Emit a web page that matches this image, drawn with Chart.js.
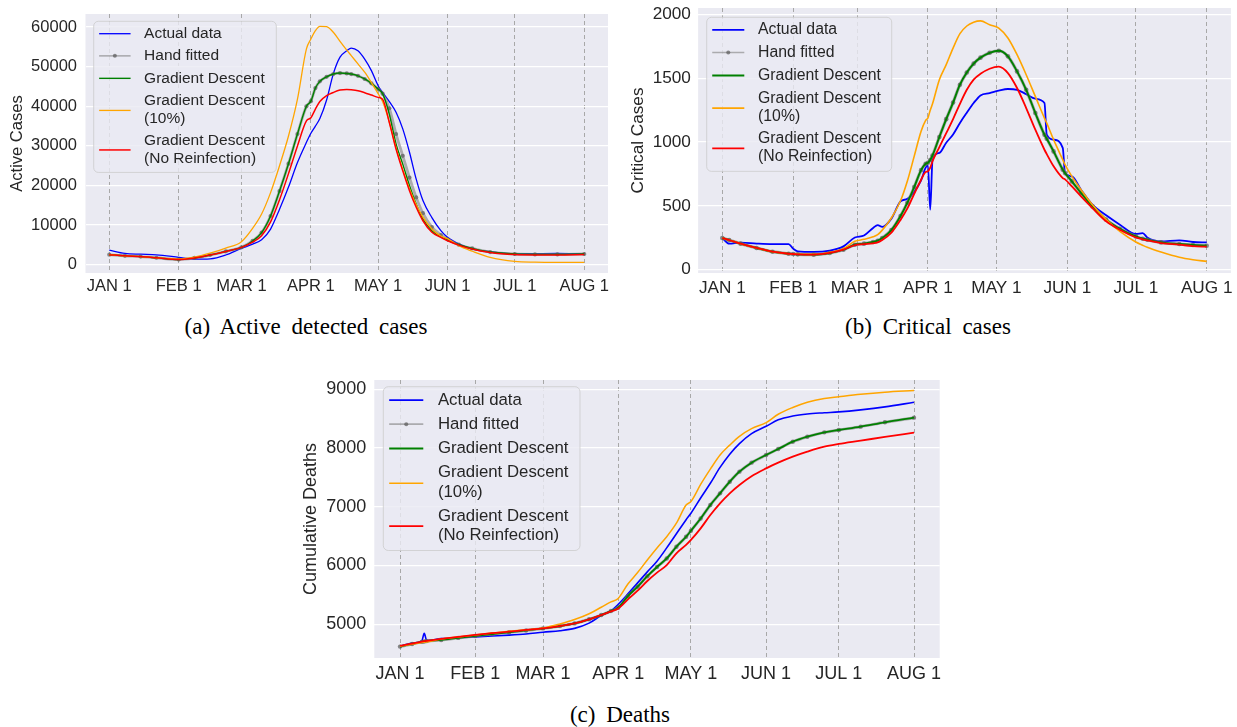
<!DOCTYPE html>
<html>
<head>
<meta charset="utf-8">
<script src="https://cdn.jsdelivr.net/npm/chart.js@4.4.1/dist/chart.umd.min.js"></script>
<style>
  body { margin: 0; background: #fff; width: 1237px; height: 727px; position: relative; overflow: hidden; }
  .panel { position: absolute; }
  .caption { position: absolute; font-family: "Liberation Serif", "Times New Roman", serif; font-size: 23px;
             word-spacing: 5px; color: #000; white-space: nowrap; transform: translateX(-50%); line-height: 26px; }
</style>
</head>
<body>
<div class="panel" style="left:0px;top:0px"><canvas id="active" width="612" height="300"></canvas></div>
<div class="panel" style="left:620px;top:0px"><canvas id="critical" width="617" height="300"></canvas></div>
<div class="panel" style="left:300px;top:370px"><canvas id="deaths" width="650" height="316"></canvas></div>
<div class="caption" style="left:306px;top:314px">(a) Active detected cases</div>
<div class="caption" style="left:928px;top:314px">(b) Critical cases</div>
<div class="caption" style="left:620px;top:702px">(c) Deaths</div>
<script>
// day 0 = Jan 1
const MONTH_DAYS = [0, 31, 59, 90, 120, 151, 181, 212];
const MONTH_LABELS = ['JAN 1', 'FEB 1', 'MAR 1', 'APR 1', 'MAY 1', 'JUN 1', 'JUL 1', 'AUG 1'];
const LEGEND_LABELS = [['Actual data'], ['Hand fitted'], ['Gradient Descent'],
                       ['Gradient Descent', '(10%)'], ['Gradient Descent', '(No Reinfection)']];

// (a) active cases
const ACTIVE_DAYS = [0, 7, 14, 21, 31, 38, 45, 52, 59, 64, 68, 72, 76, 80, 84, 88, 90, 92, 94, 97, 100, 103, 106, 108,
                     111, 114, 117, 120, 122, 125, 128, 131, 134, 137, 140, 144, 148, 151, 156, 162, 170, 181, 190, 200, 212];
const ACTIVE_ACTUAL = [3700, 2850, 2650, 2500, 1860, 1400, 1480, 2450, 4130, 5200, 6300, 9000, 14000, 19600, 25800, 30900,
                       33200, 35000, 36900, 41600, 48200, 52400, 54000, 54700, 54000, 51900, 49000, 45200, 43500, 41200,
                       38500, 34300, 28400, 21600, 16200, 11900, 8600, 6900, 5250, 3960, 3300, 2750, 2800, 2850, 2750];
const ACTIVE_HAND = [2530, 2250, 2050, 1750, 1300, 1700, 2450, 3350, 4380, 6000, 8100, 12300, 18600, 25500, 33000, 40000,
                     41300, 44600, 46300, 47450, 48150, 48400, 48300, 48150, 47700, 46900, 45800, 44350, 43200, 39500,
                     33000, 27500, 22000, 17000, 13000, 9500, 7500, 6400, 5050, 4100, 3200, 2700, 2600, 2600, 2700];
const ACTIVE_GD = [2530, 2250, 2050, 1750, 1300, 1700, 2450, 3350, 4380, 6000, 8100, 12300, 18600, 25500, 33000, 40000,
                   41300, 44600, 46300, 47450, 48150, 48400, 48300, 48150, 47700, 46900, 45800, 44350, 43200, 38000,
                   30500, 25400, 20000, 15300, 11500, 8600, 7050, 6200, 5050, 4100, 3200, 2700, 2600, 2600, 2700];
const ACTIVE_GD10 = [2530, 2250, 2050, 1750, 1440, 1900, 2900, 4200, 5810, 9200, 12800, 18200, 25000, 32500, 41800, 54500,
                     57000, 59100, 60200, 60100, 58700, 56400, 54200, 52800, 50700, 48600, 46000, 43200, 41200, 36000,
                     29500, 24000, 19200, 15200, 12000, 9000, 7200, 6600, 4800, 3400, 1850, 850, 650, 600, 600];
const ACTIVE_GDNR = [2530, 2250, 2050, 1750, 1300, 1700, 2450, 3350, 4380, 5700, 7300, 10800, 16400, 23000, 30000, 36300,
                     37100, 39300, 41200, 42700, 43500, 44100, 44270, 44190, 43940, 43430, 42840, 42250, 41800, 35900,
                     29200, 23700, 18700, 14500, 11100, 8200, 6900, 6050, 4950, 3950, 3100, 2550, 2450, 2450, 2550];
const ACTIVE_TICKS = [0, 10000, 20000, 30000, 40000, 50000, 60000];

// (b) critical cases
const CRITICAL_DAYS = [0, 3, 8, 15, 22, 29, 31, 33, 40, 47, 53, 58, 62, 66, 68, 70, 74, 78, 81, 84, 87, 89, 90, 91, 92, 95,
                       98, 101, 104, 107, 110, 113, 117, 121, 125, 129, 133, 137, 141, 142, 145, 149, 150, 153, 157, 162,
                       168, 174, 181, 184, 186, 192, 200, 206, 212];
const CRITICAL_ACTUAL = [248, 204, 212, 205, 201, 201, 165, 144, 140, 150, 183, 252, 268, 327, 350, 335, 400, 535, 555, 610,
                         700, 800, 815, 470, 860, 915, 995, 1060, 1150, 1230, 1306, 1366, 1384, 1403, 1416, 1410, 1376,
                         1340, 1306, 1058, 1019, 955, 757, 731, 627, 509, 426, 353, 280, 287, 253, 222, 230, 217, 214];
const CRITICAL_HAND = [248, 232, 204, 170, 141, 125, 123, 120, 118, 131, 157, 196, 204, 217, 227, 248, 310, 420, 525, 648,
                       780, 830, 838, 860, 895, 1040, 1180, 1310, 1450, 1545, 1615, 1662, 1700, 1716, 1672, 1554, 1410,
                       1228, 1058, 1026, 927, 784, 757, 692, 601, 496, 392, 321, 261, 243, 235, 214, 201, 193, 188];
const CRITICAL_GD = [248, 232, 204, 170, 141, 125, 123, 120, 118, 131, 157, 196, 204, 217, 227, 248, 310, 420, 525, 648,
                     780, 830, 838, 860, 895, 1040, 1180, 1310, 1450, 1545, 1615, 1662, 1700, 1716, 1672, 1554, 1410,
                     1228, 1058, 1026, 927, 784, 757, 692, 601, 496, 392, 321, 261, 243, 235, 214, 201, 193, 188];
const CRITICAL_GD10 = [248, 232, 204, 170, 141, 125, 123, 121, 120, 135, 165, 222, 238, 258, 274, 310, 405, 540, 695, 890,
                       1085, 1170, 1190, 1250, 1300, 1489, 1607, 1737, 1850, 1910, 1940, 1950, 1920, 1894, 1816, 1685,
                       1528, 1358, 1188, 1149, 1019, 862, 823, 731, 627, 509, 392, 301, 217, 191, 175, 138, 97, 78, 65];
const CRITICAL_GDNR = [248, 232, 204, 170, 141, 125, 123, 120, 118, 131, 157, 193, 200, 207, 214, 232, 290, 390, 480, 595,
                       705, 765, 771, 800, 850, 960, 1070, 1180, 1300, 1410, 1490, 1535, 1575, 1591, 1541, 1424, 1267,
                       1097, 940, 906, 810, 718, 708, 653, 575, 483, 379, 313, 253, 238, 230, 209, 196, 185, 180];
const CRITICAL_TICKS = [0, 500, 1000, 1500, 2000];

// (c) cumulative deaths
const DEATHS_DAYS = [0, 5, 9, 10, 11, 17, 24, 31, 38, 45, 52, 59, 66, 72, 78, 83, 87, 90, 94, 98, 102, 106, 110, 114, 118,
                     120, 124, 128, 132, 136, 140, 145, 151, 156, 162, 168, 175, 181, 190, 200, 212];
const DEATHS_ACTUAL = [4625, 4680, 4718, 4845, 4725, 4755, 4770, 4785, 4800, 4815, 4835, 4865, 4890, 4930, 5020, 5150,
                       5230, 5340, 5517, 5705, 5892, 6074, 6300, 6540, 6780, 6890, 7150, 7400, 7670, 7895, 8075, 8245,
                       8370, 8480, 8545, 8580, 8600, 8615, 8650, 8700, 8778];
const DEATHS_HAND = [4620, 4665, 4700, 4708, 4715, 4733, 4768, 4801, 4833, 4864, 4895, 4930, 4970, 5015, 5085, 5157,
                     5225, 5282, 5480, 5640, 5818, 5975, 6120, 6320, 6490, 6593, 6800, 7030, 7229, 7427, 7598, 7751,
                     7881, 7983, 8108, 8193, 8267, 8307, 8364, 8438, 8517];
const DEATHS_GD = [4620, 4665, 4700, 4708, 4715, 4733, 4768, 4801, 4833, 4864, 4895, 4930, 4970, 5015, 5085, 5157,
                   5225, 5282, 5480, 5640, 5818, 5975, 6120, 6320, 6490, 6593, 6800, 7030, 7229, 7427, 7598, 7751,
                   7881, 7983, 8108, 8193, 8267, 8307, 8364, 8438, 8517];
const DEATHS_GD10 = [4625, 4660, 4690, 4695, 4700, 4750, 4785, 4818, 4850, 4880, 4905, 4935, 5005, 5080, 5180, 5290,
                     5380, 5440, 5685, 5880, 6095, 6300, 6490, 6720, 7030, 7090, 7380, 7640, 7881, 8050, 8200, 8330,
                     8432, 8575, 8690, 8780, 8845, 8874, 8915, 8950, 8978];
const DEATHS_GDNR = [4635, 4670, 4705, 4712, 4718, 4750, 4785, 4818, 4848, 4875, 4903, 4930, 4970, 5015, 5085, 5157,
                     5220, 5270, 5425, 5572, 5737, 5879, 6007, 6208, 6350, 6435, 6632, 6860, 7059, 7229, 7371, 7520,
                     7654, 7751, 7853, 7938, 8023, 8069, 8125, 8190, 8261];
const DEATHS_TICKS = [5000, 6000, 7000, 8000, 9000];

const FONT = '"Liberation Sans", Arial, sans-serif';
const INK = '#262626';
const COLORS = ['#0000ff', 'rgba(128,128,128,0.6)', '#008000', '#ffa500', '#ff0000'];

// seaborn-like grey plot area
const plotBg = {
  id: 'plotBg',
  beforeDraw(chart) {
    const a = chart.chartArea, ctx = chart.ctx;
    ctx.save();
    ctx.fillStyle = '#eaeaf2';
    ctx.fillRect(a.left, a.top, a.right - a.left, a.bottom - a.top);
    ctx.restore();
  }
};

// matplotlib style legend box (two-line labels)
const boxLegend = {
  id: 'boxLegend',
  afterDraw(chart, args, o) {
    const ctx = chart.ctx, f = o.size;
    const rows = [[0.8], [2.23], [3.68], [5.12, 6.28], [7.7, 8.84]];
    const mid = [0.8, 2.23, 3.68, 5.75, 8.3];
    ctx.save();
    ctx.beginPath();
    ctx.roundRect(o.left, o.top, o.width, 9.75 * f, 0.3 * f);
    ctx.fillStyle = 'rgba(234,234,242,0.8)';
    ctx.fill();
    ctx.strokeStyle = 'rgba(204,204,204,0.8)';
    ctx.lineWidth = 1;
    ctx.stroke();
    ctx.font = f + 'px ' + FONT;
    ctx.textBaseline = 'middle';
    chart.data.datasets.forEach((ds, i) => {
      const y = o.top + mid[i] * f;
      const x1 = o.left + 0.35 * f, x2 = o.left + 2.38 * f;
      ctx.strokeStyle = ds.borderColor;
      ctx.lineWidth = i === 1 ? 1.6 : ds.borderWidth;
      ctx.beginPath();
      ctx.moveTo(x1, y);
      ctx.lineTo(x2, y);
      ctx.stroke();
      if (ds.pointRadius) {
        ctx.fillStyle = ds.pointBackgroundColor;
        ctx.beginPath();
        ctx.arc((x1 + x2) / 2, y, 2, 0, 2 * Math.PI);
        ctx.fill();
      }
      ctx.fillStyle = INK;
      LEGEND_LABELS[i].forEach((t, k) => ctx.fillText(t, o.left + 3.25 * f, o.top + rows[i][k] * f));
    });
    ctx.restore();
  }
};

function makeChart(id, days, series, s) {
  const datasets = series.map((vals, i) => ({
    data: days.map((d, k) => ({ x: d, y: vals[k] })),
    borderColor: COLORS[i],
    borderWidth: s.widths[i],
    pointRadius: i === 1 ? s.dot : 0,
    pointBackgroundColor: 'rgba(90,90,90,0.7)',
    pointBorderWidth: 0,
    cubicInterpolationMode: 'monotone',
    order: 5 - i,
    fill: false
  }));
  const tickFont = { family: FONT, size: s.tick };
  return new Chart(document.getElementById(id), {
    type: 'line',
    data: { datasets },
    plugins: [plotBg, boxLegend],
    options: {
      responsive: false,
      animation: false,
      events: [],
      layout: { padding: { left: 0, top: s.top, right: s.right, bottom: 0 } },
      plugins: { legend: { display: false }, tooltip: { enabled: false }, boxLegend: s.legend },
      scales: {
        x: {
          type: 'linear', min: -10.6, max: 222.6,
          afterBuildTicks: ax => { ax.ticks = MONTH_DAYS.map(v => ({ value: v })); },
          afterFit: ax => { ax.height = s.xHeight; ax.paddingLeft = 0; ax.paddingRight = 0; },
          ticks: { autoSkip: false, maxRotation: 0, minRotation: 0, padding: s.xPad, color: INK, font: tickFont,
                   callback: (v, i) => MONTH_LABELS[i] },
          grid: { color: '#a8a8a8', lineWidth: 1, drawTicks: false },
          border: { display: false, dash: [4, 3] }
        },
        y: {
          min: s.yMin, max: s.yMax,
          afterBuildTicks: ax => { ax.ticks = s.yTicks.map(v => ({ value: v })); },
          afterFit: ax => { ax.width = s.yWidth; ax.paddingTop = 0; ax.paddingBottom = 0; },
          ticks: { padding: s.yPad, color: INK, font: tickFont, callback: v => String(v) },
          grid: { color: '#ffffff', lineWidth: 1.3, drawTicks: false },
          border: { display: false },
          title: { display: true, text: s.title, color: INK, font: tickFont, padding: { top: s.titlePad, bottom: 0 } }
        }
      }
    }
  });
}

makeChart('active', ACTIVE_DAYS, [ACTIVE_ACTUAL, ACTIVE_HAND, ACTIVE_GD, ACTIVE_GD10, ACTIVE_GDNR], {
  top: 14, right: 2.5, xHeight: 27, yWidth: 85.5, xPad: 4, yPad: 8.5, tick: 16.5, titlePad: 7.9,
  yMin: -2096, yMax: 63308, yTicks: ACTIVE_TICKS, title: 'Active Cases',
  widths: [1.3, 2.8, 1.4, 1.3, 1.5], dot: 2.1,
  legend: { left: 93.7, top: 21.3, width: 182.6, size: 15.5 }
});

makeChart('critical', CRITICAL_DAYS, [CRITICAL_ACTUAL, CRITICAL_HAND, CRITICAL_GD, CRITICAL_GD10, CRITICAL_GDNR], {
  top: 8, right: 6.1, xHeight: 27, yWidth: 78.1, xPad: 5, yPad: 7.2, tick: 17.2, titlePad: 7.5,
  yMin: -26, yMax: 2051, yTicks: CRITICAL_TICKS, title: 'Critical Cases',
  widths: [1.8, 3.2, 1.9, 1.6, 1.8], dot: 2.3,
  legend: { left: 86.7, top: 17.3, width: 185, size: 15.8 }
});

makeChart('deaths', DEATHS_DAYS, [DEATHS_ACTUAL, DEATHS_HAND, DEATHS_GD, DEATHS_GD10, DEATHS_GDNR], {
  top: 10, right: 10.3, xHeight: 28, yWidth: 74.3, xPad: 5.7, yPad: 8, tick: 18, titlePad: 0,
  yMin: 4426, yMax: 9158, yTicks: DEATHS_TICKS, title: 'Cumulative Deaths',
  widths: [1.6, 3, 1.8, 1.5, 1.8], dot: 2.2,
  legend: { left: 83.3, top: 16.7, width: 196.7, size: 16.8 }
});
</script>
</body>
</html>
